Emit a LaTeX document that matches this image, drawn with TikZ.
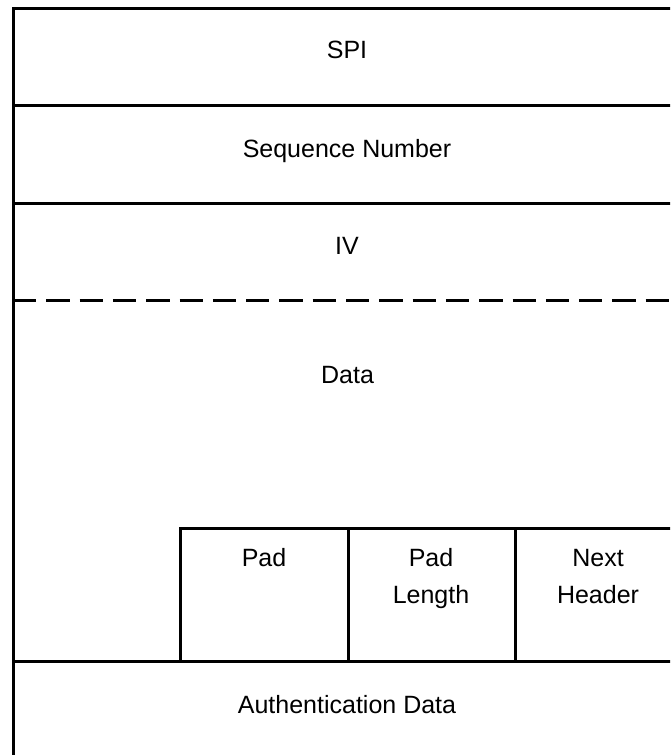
\documentclass[tikz,border=0pt]{standalone}
\usepackage{fontspec}
\setmainfont{Liberation Sans}

\begin{document}
\begin{tikzpicture}[x=1pt,y=-1pt,line width=3pt,
    every node/.style={font=\fontsize{25}{30}\selectfont,inner sep=0pt,anchor=base},
    fieldsep/.style={dash pattern=on 23.3pt off 10pt}]
          \useasboundingbox (0,0) rectangle (670,755);
          \clip (0,0) rectangle (670,755);
          % outer frame and rows
          \coordinate (p1) at (13,8);
          \coordinate (p2) at (681,8);
          \coordinate (p3) at (13,105);
          \coordinate (p4) at (681,105);
          \coordinate (p5) at (13,203);
          \coordinate (p6) at (681,203);
          \coordinate (p7) at (13,300);
          \coordinate (p8) at (681,300);
          \coordinate (p9) at (13,661);
          \coordinate (p10) at (681,661);
          \coordinate (p11) at (13,800);
          \coordinate (p12) at (681,800);
          % trailer boxes
          \coordinate (p13) at (180,528);
          \coordinate (p14) at (348,528);
          \coordinate (p15) at (515,528);
          \coordinate (p16) at (180,661);
          \coordinate (p17) at (348,661);
          \coordinate (p18) at (515,661);
          \draw (p11) -- (p1) -- (p2) -- (p12) -- (p11);
          \draw (p3) -- (p4);
          \draw (p5) -- (p6);
          \draw[fieldsep] (p7) -- (p8);
          \draw (p9) -- (p10);
          \draw (p16) -- (p13) -- (p2 |- p13);
          \draw (p14) -- (p17);
          \draw (p15) -- (p18);
        \node (spi) at (347,58.3) {SPI};
        \node (seq) at (347,157) {Sequence Number};
        \node (iv) at (347,254.3) {IV};
        \node (data) at (347.5,383) {Data};
        \node (pad) at (264,566) {Pad};
        \node (padlen1) at (431,566) {Pad};
        \node (padlen2) at (431,603) {Length};
        \node (next1) at (598,566) {Next};
        \node (next2) at (598,603) {Header};
        \node (auth) at (347,713) {Authentication Data};
        \end{tikzpicture}
\end{document}
